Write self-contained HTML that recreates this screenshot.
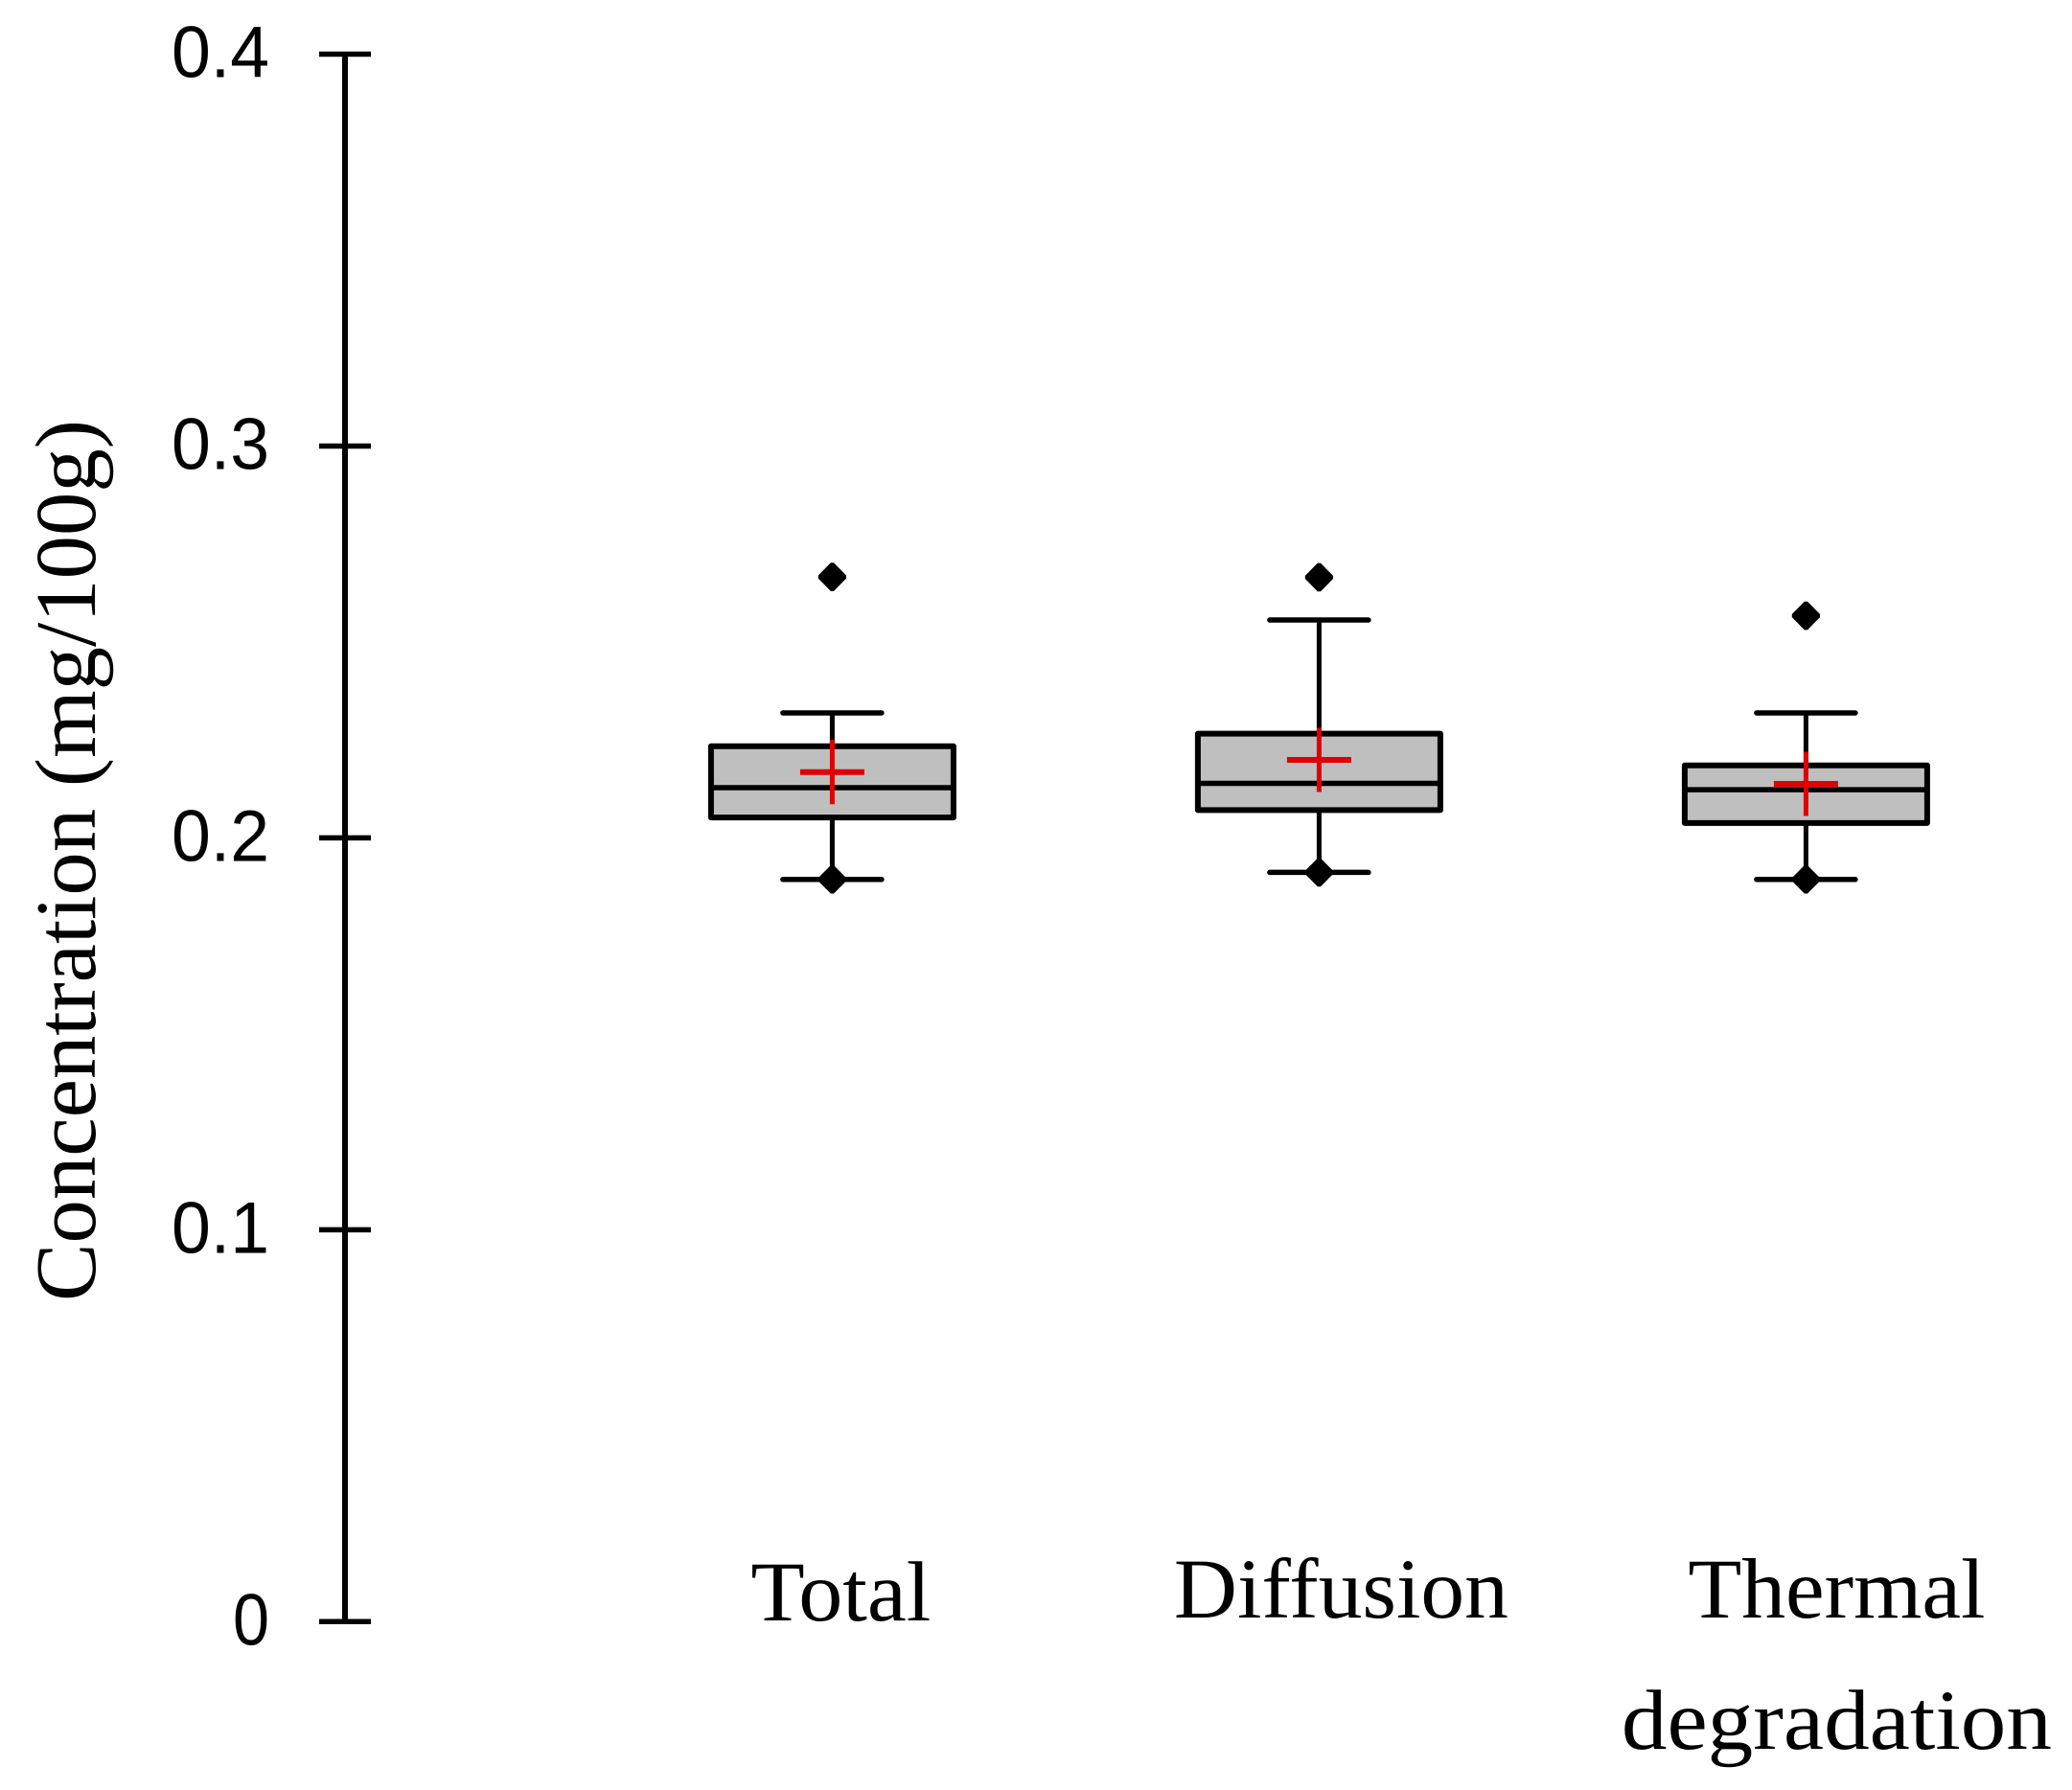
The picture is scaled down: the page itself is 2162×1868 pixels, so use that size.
<!DOCTYPE html>
<html lang="en">
<head>
<meta charset="utf-8">
<title>Concentration box plot</title>
<style>
html,body{margin:0;padding:0;background:#fff;}
svg{display:block;}
</style>
</head>
<body>
<svg id="chart" xmlns="http://www.w3.org/2000/svg" width="2162" height="1868" viewBox="0 0 2162 1868">
  <rect x="0" y="0" width="2162" height="1868" fill="#ffffff"/>
  <text transform="translate(99,898) rotate(-90)" text-anchor="middle" font-family="'Liberation Serif', serif" font-size="90" textLength="920" lengthAdjust="spacingAndGlyphs" fill="#000">Concentration (mg/100g)</text>
</svg>
<script>
// Data
const categories = ['Total', 'Diffusion', 'Thermal degradation'];
const whiskerHigh = [0.2319, 0.2556, 0.2319];
const quartile3 = [0.2234, 0.2266, 0.2185];
const medians = [0.2128, 0.2139, 0.2123];
const quartile1 = [0.2052, 0.2071, 0.2038];
const whiskerLow = [0.1894, 0.1912, 0.1894];
const means = [0.2168, 0.2199, 0.2138];
const outliersHigh = [0.2666, 0.2665, 0.2567];
const outliersLow = [0.1894, 0.1912, 0.1894];
const yTicks = [0, 0.1, 0.2, 0.3, 0.4];
const yTickLabels = ['0', '0.1', '0.2', '0.3', '0.4'];

(function () {
  const NS = 'http://www.w3.org/2000/svg';
  const svg = document.getElementById('chart');
  const yScale = function (v) { return 1692.3 - v * 4089.5; };
  const xScale = function (i) { return 868.4 + i * 508; };
  const BLACK = '#000000';
  const RED = '#e00000';

  function make(tag, attrs) {
    const el = document.createElementNS(NS, tag);
    Object.keys(attrs).forEach(function (k) { el.setAttribute(k, attrs[k]); });
    svg.appendChild(el);
    return el;
  }
  function line(x1, y1, x2, y2, color, width, cap) {
    return make('line', { x1: x1, y1: y1, x2: x2, y2: y2, stroke: color, 'stroke-width': width, 'stroke-linecap': cap || 'butt' });
  }
  function diamond(cx, cy) {
    const w = 14.6, h = 14.8, c = 1.6;
    const pts = [
      [cx - c, cy - h], [cx + c, cy - h], [cx + w, cy - c], [cx + w, cy + c],
      [cx + c, cy + h], [cx - c, cy + h], [cx - w, cy + c], [cx - w, cy - c]
    ].map(function (p) { return p.join(','); }).join(' ');
    return make('polygon', { points: pts, fill: BLACK });
  }

  // Y axis
  const axisLine = line(360, yScale(0.4) - 2.5, 360, yScale(0) + 2.5, BLACK, 6);
  
  

  yTicks.forEach(function (t, i) {
    const y = yScale(t);
    const tick = line(333, y, 387, y, BLACK, 5.5);
    
    

    const label = make('text', { x: 281, y: y + 24, 'text-anchor': 'end', 'font-family': "'Liberation Sans', sans-serif", 'font-size': 76, textLength: yTickLabels[i].length > 1 ? 102 : 38, lengthAdjust: 'spacingAndGlyphs', fill: BLACK });
    label.textContent = yTickLabels[i];
    
    
  });

  // Boxes
  categories.forEach(function (cat, i) {
    const cx = xScale(i);
    const key = cat.toLowerCase().split(' ')[0];
    const boxHalf = 126.5, capHalf = 53.5, crossHalf = 33.5;

    const upper = line(cx, yScale(whiskerHigh[i]), cx, yScale(quartile3[i]), BLACK, 5);
    
    

    const lower = line(cx, yScale(quartile1[i]), cx, yScale(whiskerLow[i]), BLACK, 5);
    
    

    const capHigh = line(cx - capHalf + 2, yScale(whiskerHigh[i]), cx + capHalf - 2, yScale(whiskerHigh[i]), BLACK, 5.5, 'round');
    
    

    const capLow = line(cx - capHalf + 2, yScale(whiskerLow[i]), cx + capHalf - 2, yScale(whiskerLow[i]), BLACK, 5.5, 'round');
    
    

    const box = make('rect', {
      x: cx - boxHalf, y: yScale(quartile3[i]), width: boxHalf * 2,
      height: yScale(quartile1[i]) - yScale(quartile3[i]),
      fill: '#bfbfbf', stroke: BLACK, 'stroke-width': 6, 'stroke-linejoin': 'round'
    });
    
    

    const med = line(cx - boxHalf, yScale(medians[i]), cx + boxHalf, yScale(medians[i]), BLACK, 5.5);
    
    

    const outHigh = diamond(cx, yScale(outliersHigh[i]));
    
    

    const outLow = diamond(cx, yScale(outliersLow[i]));
    
    

    const my = yScale(means[i]);
    const meanH = line(cx - crossHalf, my, cx + crossHalf, my, RED, 6);
    
    

    const meanV = line(cx, my - crossHalf, cx, my + crossHalf, RED, 5);
    
    
  });

  // Category labels (layout is specific to each label's wrapped form)
  const serif = "'Liberation Serif', serif";
  categories.forEach(function (cat, i) {
    const cx = xScale(i);
    const key = cat.toLowerCase().split(' ')[0];
    const words = i === 2 ? cat.split(' ') : [cat];
    const nudge = [9, 23, 32][i];
    const fit = [[188], [349], [310, 449]][i];
    const base = i === 0 ? 1691 : 1688;
    words.forEach(function (word, j) {
      const t = make('text', {
        x: cx + nudge, y: base + j * 137, 'text-anchor': 'middle', 'font-family': serif,
        'font-size': 89, textLength: fit[j], lengthAdjust: 'spacingAndGlyphs', fill: BLACK
      });
      t.textContent = word;
      
      
    });
  });
})();
</script>
</body>
</html>
